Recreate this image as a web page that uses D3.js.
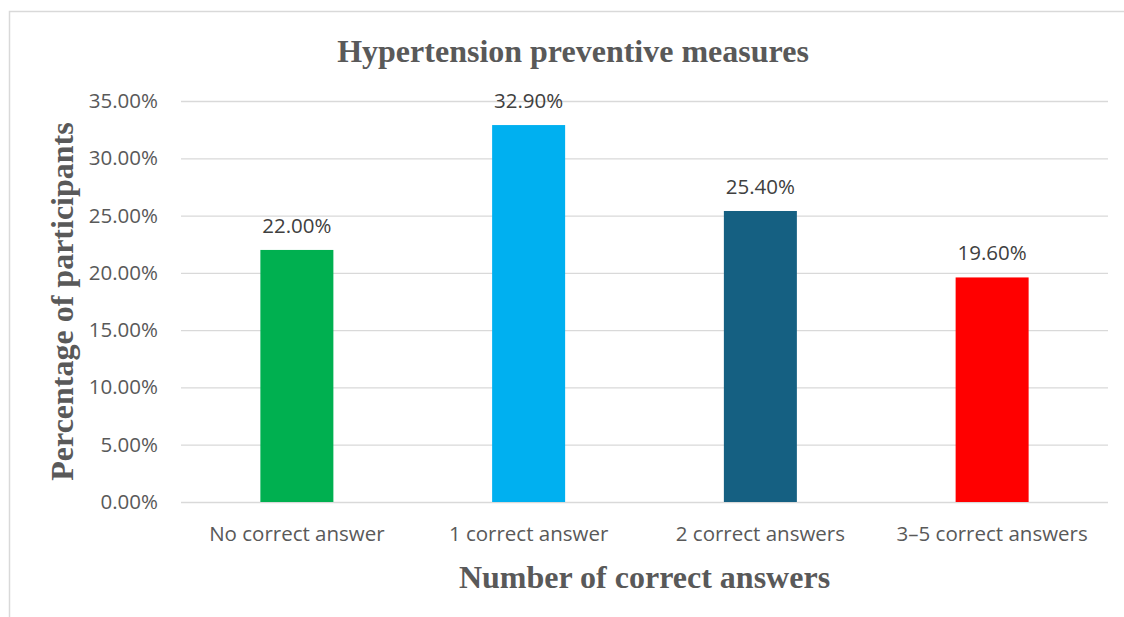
<!DOCTYPE html>
<html>
<head>
<meta charset="utf-8">
<script src="https://cdn.jsdelivr.net/npm/d3@7"></script>
<style>
  html, body { margin: 0; padding: 0; background: #fff; }
  svg { display: block; }
</style>
</head>
<body>
<svg id="chart" width="1124" height="617"></svg>
<script>
// Share of participants by number of correct answers on hypertension prevention
const categories = ["No correct answer", "1 correct answer", "2 correct answers", "3\u20135 correct answers"];
const values = [0.22, 0.329, 0.254, 0.196];
const barColors = ["#00B050", "#00B0F0", "#156082", "#FF0000"];
const yTicks = [0, 0.05, 0.10, 0.15, 0.20, 0.25, 0.30, 0.35];

const svg = d3.select("#chart");
const W = 1124, H = 617;
const plot = { left: 181, right: 1108, top: 101, bottom: 502 };

// Outer frame of the chart area
svg.append("path")
  .attr("d", `M9.5,${H} V11.5 H${W}`)
  .attr("fill", "none")
  .attr("stroke", "#d9d9d9")
  .attr("stroke-width", 1.5);

const x = d3.scaleBand()
  .domain(categories)
  .range([plot.left, plot.right])
  .paddingInner(0.685)
  .paddingOuter(0.685 / 2);

const y = d3.scaleLinear()
  .domain([0, 0.35])
  .range([plot.bottom, plot.top]);

const fmt = d3.format(".2%");
const labelFont = "'Open Sans', Calibri, sans-serif";
const labelSize = "20.5px";
const serif = "'Liberation Serif', 'Times New Roman', serif";

// Horizontal gridlines + y tick labels
const yAxis = d3.axisLeft(y)
  .tickValues(yTicks)
  .tickFormat(fmt)
  .tickSize(-(plot.right - plot.left))
  .tickPadding(23);

const gy = svg.append("g")
  .attr("transform", `translate(${plot.left},0)`)
  .call(yAxis);
gy.select(".domain").remove();
gy.selectAll(".tick line")
  .attr("stroke", "#d9d9d9")
  .attr("stroke-width", 1.3);
gy.selectAll(".tick text")
  .attr("fill", "#595959")
  .style("font-family", labelFont)
  .style("font-size", labelSize);

// Category labels along the bottom
const xAxis = d3.axisBottom(x).tickSize(0).tickPadding(24);
const gx = svg.append("g")
  .attr("transform", `translate(0,${plot.bottom})`)
  .call(xAxis);
gx.select(".domain").remove();
gx.selectAll(".tick text")
  .attr("fill", "#595959")
  .style("font-family", labelFont)
  .style("font-size", labelSize);

// Bars
svg.append("g")
  .selectAll("rect")
  .data(values)
  .join("rect")
  .attr("x", (d, i) => x(categories[i]))
  .attr("y", d => y(d))
  .attr("width", x.bandwidth())
  .attr("height", d => y(0) - y(d))
  .attr("fill", (d, i) => barColors[i]);

// Value labels above the bars
svg.append("g")
  .selectAll("text")
  .data(values)
  .join("text")
  .attr("x", (d, i) => x(categories[i]) + x.bandwidth() / 2)
  .attr("y", d => y(d) - 17)
  .attr("text-anchor", "middle")
  .attr("fill", "#404040")
  .style("font-family", labelFont)
  .style("font-size", labelSize)
  .text(d => fmt(d));

// Chart title
svg.append("text")
  .attr("x", 573)
  .attr("y", 62)
  .attr("text-anchor", "middle")
  .attr("fill", "#595959")
  .style("font-family", serif)
  .style("font-weight", "bold")
  .style("font-size", "32px")
  .text("Hypertension preventive measures");

// X-axis title
svg.append("text")
  .attr("x", (plot.left + plot.right) / 2)
  .attr("y", 588)
  .attr("text-anchor", "middle")
  .attr("fill", "#595959")
  .style("font-family", serif)
  .style("font-weight", "bold")
  .style("font-size", "32px")
  .text("Number of correct answers");

// Y-axis title
svg.append("text")
  .attr("transform", `translate(73,${(plot.top + plot.bottom) / 2}) rotate(-90)`)
  .attr("text-anchor", "middle")
  .attr("fill", "#595959")
  .style("font-family", serif)
  .style("font-weight", "bold")
  .style("font-size", "32px")
  .text("Percentage of participants");
</script>
</body>
</html>
